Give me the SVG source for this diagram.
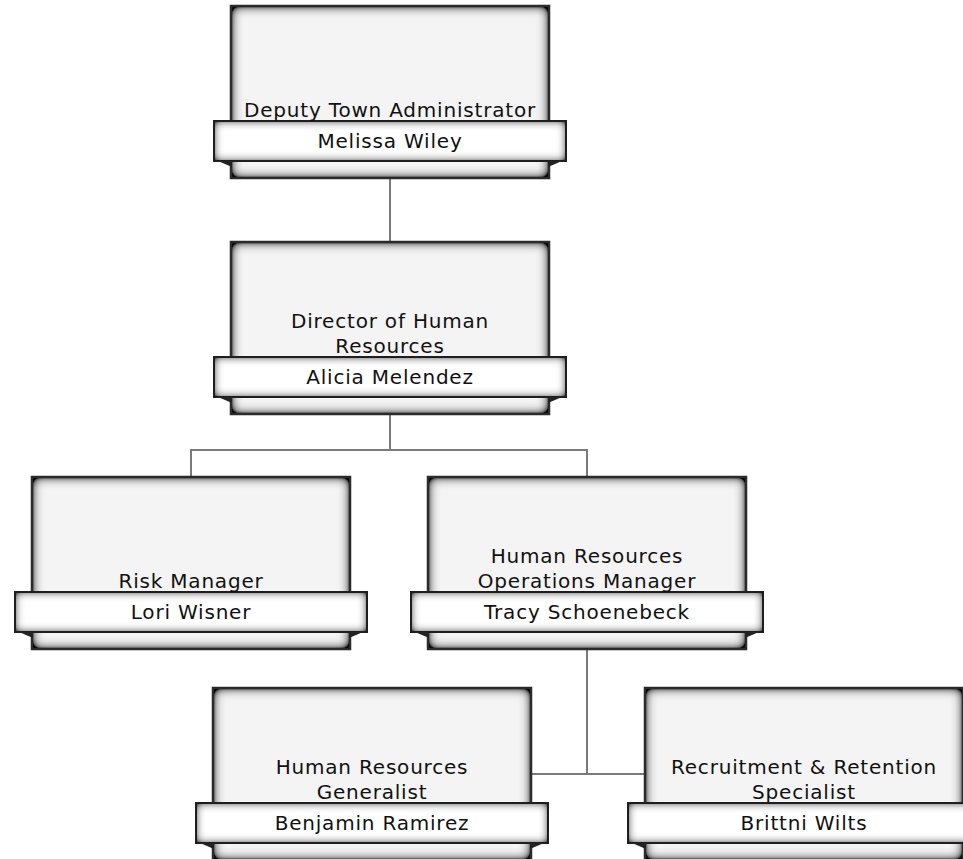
<svg xmlns="http://www.w3.org/2000/svg" width="963" height="859" viewBox="0 0 963 859">
<style>
.box{fill:#f4f4f4;filter:url(#inset)}
.boxline{fill:none;stroke:#2a2a2a;stroke-width:2.5}
.band{fill:#ffffff;filter:url(#inset2)}
.bandline{fill:none;stroke:#1e1e1e;stroke-width:2}
.wedge{fill:#222}
.t{font-family:"DejaVu Sans",Verdana,sans-serif;font-size:20px;letter-spacing:0.8px;fill:#111;text-anchor:middle}
.conn{fill:none;stroke:#7a7a7a;stroke-width:2}
</style>
<defs>
<filter id="inset" x="-20%" y="-20%" width="140%" height="140%">
<feFlood flood-color="#111" result="c"/>
<feComposite in="c" in2="SourceAlpha" operator="out" result="o"/>
<feGaussianBlur in="o" stdDeviation="6" result="b"/>
<feComponentTransfer in="b" result="b2"><feFuncA type="linear" slope="1.9"/></feComponentTransfer>
<feComposite in="b2" in2="SourceAlpha" operator="in" result="i"/>
<feMerge><feMergeNode in="SourceGraphic"/><feMergeNode in="i"/></feMerge>
</filter>
<filter id="inset2" x="-20%" y="-50%" width="140%" height="200%">
<feFlood flood-color="#111" result="c"/>
<feComposite in="c" in2="SourceAlpha" operator="out" result="o"/>
<feGaussianBlur in="o" stdDeviation="5" result="b"/>
<feComponentTransfer in="b" result="b2"><feFuncA type="linear" slope="1.5"/></feComponentTransfer>
<feComposite in="b2" in2="SourceAlpha" operator="in" result="i"/>
<feMerge><feMergeNode in="SourceGraphic"/><feMergeNode in="i"/></feMerge>
</filter>
</defs>
<g id="connectors">
<path class="conn" d="M390,178 V242"/>
<path class="conn" d="M390,414 V450 M191,477 V450 H587 V477"/>
<path class="conn" d="M587,649 V774 M531,774 H645"/>
</g>
<g id="n1">
<rect class="box" x="231" y="6" width="318" height="172"/>
<rect class="boxline" x="231" y="6" width="318" height="172"/>
<rect class="band" x="214" y="121" width="352" height="40"/>
<rect class="bandline" x="214" y="121" width="352" height="40"/>
<polygon class="wedge" points="218,161 232,161 232,167"/><polygon class="wedge" points="562,161 548,161 548,167"/>
<text class="t" x="390" y="117">Deputy Town Administrator</text>
<text class="t" x="390" y="148">Melissa Wiley</text>
</g>
<g id="n2">
<rect class="box" x="231" y="242" width="318" height="172"/>
<rect class="boxline" x="231" y="242" width="318" height="172"/>
<rect class="band" x="214" y="357" width="352" height="40"/>
<rect class="bandline" x="214" y="357" width="352" height="40"/>
<polygon class="wedge" points="218,397 232,397 232,403"/><polygon class="wedge" points="562,397 548,397 548,403"/>
<text class="t" x="390" y="328">Director of Human</text>
<text class="t" x="390" y="353">Resources</text>
<text class="t" x="390" y="384">Alicia Melendez</text>
</g>
<g id="n3">
<rect class="box" x="32" y="477" width="318" height="172"/>
<rect class="boxline" x="32" y="477" width="318" height="172"/>
<rect class="band" x="15" y="592" width="352" height="40"/>
<rect class="bandline" x="15" y="592" width="352" height="40"/>
<polygon class="wedge" points="19,632 33,632 33,638"/><polygon class="wedge" points="363,632 349,632 349,638"/>
<text class="t" x="191" y="588">Risk Manager</text>
<text class="t" x="191" y="619">Lori Wisner</text>
</g>
<g id="n4">
<rect class="box" x="428" y="477" width="318" height="172"/>
<rect class="boxline" x="428" y="477" width="318" height="172"/>
<rect class="band" x="411" y="592" width="352" height="40"/>
<rect class="bandline" x="411" y="592" width="352" height="40"/>
<polygon class="wedge" points="415,632 429,632 429,638"/><polygon class="wedge" points="759,632 745,632 745,638"/>
<text class="t" x="587" y="563">Human Resources</text>
<text class="t" x="587" y="588">Operations Manager</text>
<text class="t" x="587" y="619">Tracy Schoenebeck</text>
</g>
<g id="n5">
<rect class="box" x="213" y="688" width="318" height="172"/>
<rect class="boxline" x="213" y="688" width="318" height="172"/>
<rect class="band" x="196" y="803" width="352" height="40"/>
<rect class="bandline" x="196" y="803" width="352" height="40"/>
<polygon class="wedge" points="200,843 214,843 214,849"/><polygon class="wedge" points="544,843 530,843 530,849"/>
<text class="t" x="372" y="774">Human Resources</text>
<text class="t" x="372" y="799">Generalist</text>
<text class="t" x="372" y="830">Benjamin Ramirez</text>
</g>
<g id="n6">
<rect class="box" x="645" y="688" width="318" height="172"/>
<rect class="boxline" x="645" y="688" width="318" height="172"/>
<rect class="band" x="628" y="803" width="352" height="40"/>
<rect class="bandline" x="628" y="803" width="352" height="40"/>
<polygon class="wedge" points="632,843 646,843 646,849"/>
<text class="t" x="804" y="774">Recruitment &amp; Retention</text>
<text class="t" x="804" y="799">Specialist</text>
<text class="t" x="804" y="830">Brittni Wilts</text>
</g>
</svg>
